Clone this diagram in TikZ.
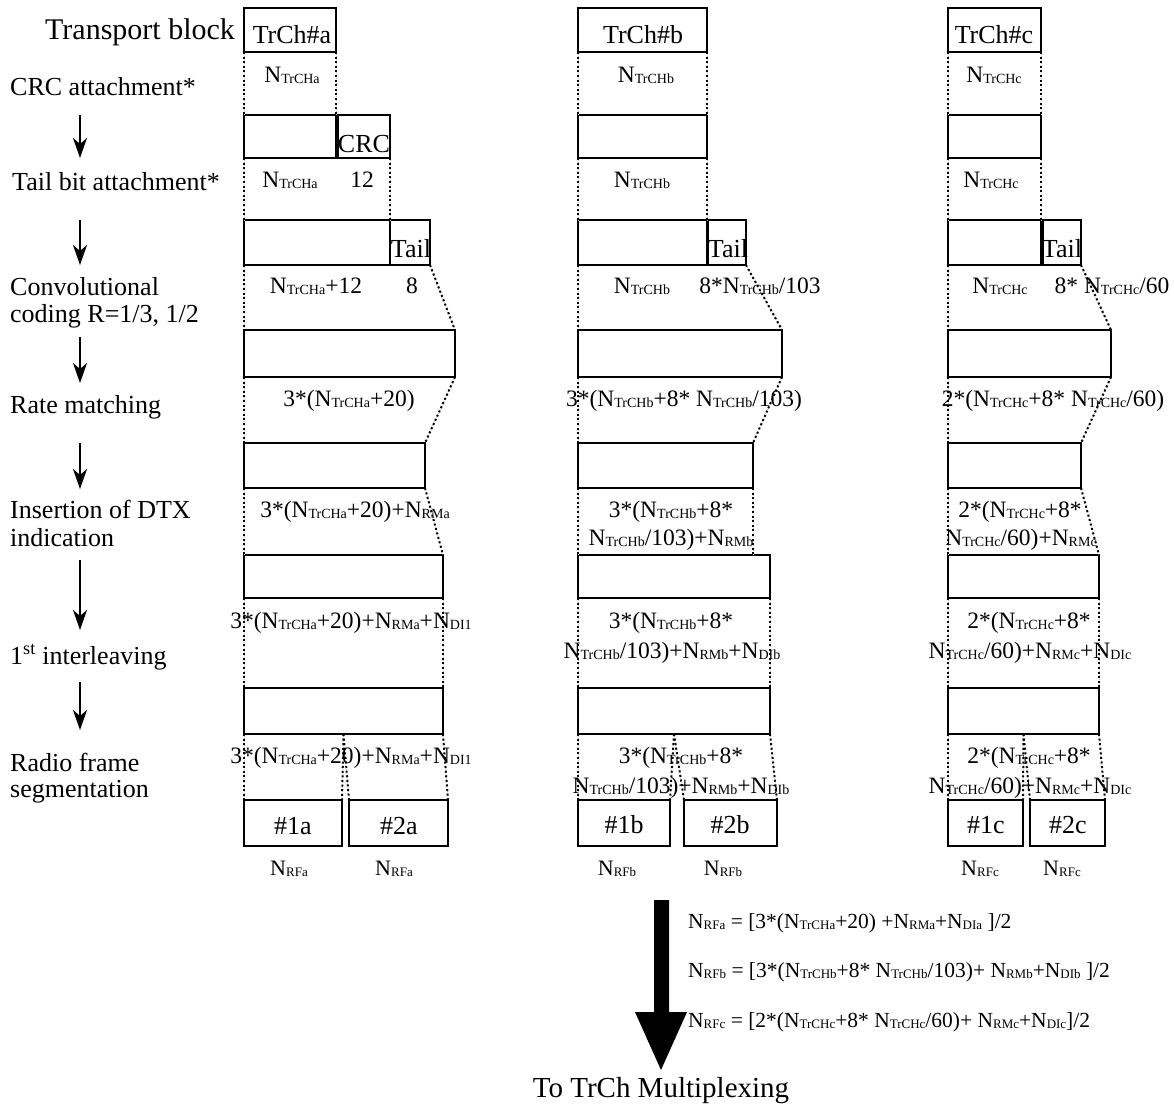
\documentclass[tikz,border=0pt]{standalone}
\usepackage{fontspec}
\setmainfont{Liberation Serif}
\usetikzlibrary{arrows.meta}
\newcommand\subfont{\fontsize{14}{14}\selectfont}
\newcommand\Sub[1]{\raisebox{-1pt}{\subfont #1}}
\newcommand\Nt[1]{N\Sub{TrCH#1}}
\newcommand\Nx[1]{N\Sub{#1}}
\tikzset{
  box/.style={draw, line width=1.6pt, inner sep=0pt, outer sep=0pt, anchor=north west},
  dlink/.style={preaction={draw, gray!50, line width=0.7pt, dash pattern=on 1pt off 1.2pt},
                draw, black, line width=2pt, dash pattern=on 2pt off 2.6pt},
  lab/.style={anchor=base, inner sep=0pt, font=\fontsize{23.5}{28}\selectfont},
  boxtxt/.style={anchor=base, inner sep=0pt, font=\fontsize{26}{30}\selectfont},
  stagetxt/.style={anchor=base west, inner sep=0pt, font=\fontsize{26}{30}\selectfont},
  flow/.style={line width=1.6pt, -{Stealth[length=20pt,width=14pt,inset=6pt]}},
  rflab/.style={anchor=base, inner sep=0pt, font=\fontsize{22}{26}\selectfont\def\subfont{\fontsize{13}{13}\selectfont}},
  formula/.style={anchor=base west, inner sep=0pt, font=\fontsize{21.5}{26}\selectfont\def\subfont{\fontsize{13}{13}\selectfont}}
}
\newcommand\bx[5]{\node[box, minimum width={(#4-#2)*1pt}, minimum height={(#5-#3)*1pt}] (#1) at (#2,#3) {};}
\begin{document}
\begin{tikzpicture}[x=1pt,y=-1pt]
\useasboundingbox (0,0) rectangle (1174,1106);

% ---------- left stage labels ----------
\node[stagetxt, font=\fontsize{30}{34}\selectfont] (s0) at (45,39) {Transport block};
\node[stagetxt] (s1) at (10,95) {CRC attachment*};
\node[stagetxt] (s2) at (12,190) {Tail bit attachment*};
\node[stagetxt] (s3a) at (10,295) {Convolutional};
\node[stagetxt] (s3b) at (10,322) {coding R=1/3, 1/2};
\node[stagetxt] (s4) at (10,413) {Rate matching};
\node[stagetxt] (s5a) at (10,518) {Insertion of DTX};
\node[stagetxt] (s5b) at (10,546) {indication};
\node[stagetxt] (s6) at (10,664) {1\textsuperscript{st} interleaving};
\node[stagetxt] (s7a) at (10,771) {Radio frame};
\node[stagetxt] (s7b) at (10,797) {segmentation};

\foreach \i/\ya/\yb in {1/115/158, 2/220/265, 3/337/383, 4/443/489, 5/560/630, 6/682/730}{
  \coordinate (fa\i) at (80,\ya);
  \coordinate (fb\i) at (80,\yb);
  \draw[flow] (fa\i) -- (fb\i);
}

% ---------- column a ----------
\bx{a0}{244}{8}{336}{52}
\bx{a1}{244}{115}{336}{158}
\bx{a1c}{338}{115}{390}{158}
\bx{a2}{244}{220}{390}{265}
\bx{a2t}{390}{220}{430}{265}
\bx{a3}{244}{330}{455}{377}
\bx{a4}{244}{443}{425}{488}
\bx{a5}{244}{555}{443}{598}
\bx{a6}{244}{688}{443}{734}
\bx{a7}{244}{800}{342}{846}
\bx{a8}{349}{800}{448}{846}

% ---------- column b ----------
\bx{b0}{578}{8}{707}{52}
\bx{b1}{578}{115}{707}{158}
\bx{b2}{578}{220}{707}{265}
\bx{b2t}{708}{220}{746}{265}
\bx{b3}{578}{330}{782}{377}
\bx{b4}{578}{443}{753}{488}
\bx{b5}{578}{555}{770}{598}
\bx{b6}{578}{688}{770}{734}
\bx{b7}{578}{800}{670}{846}
\bx{b8}{684}{800}{777}{846}

% ---------- column c ----------
\bx{c0}{948}{8}{1041}{52}
\bx{c1}{948}{115}{1041}{158}
\bx{c2}{948}{220}{1041}{265}
\bx{c2t}{1043}{220}{1081}{265}
\bx{c3}{948}{330}{1111}{377}
\bx{c4}{948}{443}{1081}{488}
\bx{c5}{948}{555}{1099}{598}
\bx{c6}{948}{688}{1099}{734}
\bx{c7}{948}{800}{1023}{846}
\bx{c8}{1030}{800}{1105}{846}

% ---------- dotted links ----------
\draw[dlink] (a0.south west) -- (a1.north west);
\draw[dlink] (a0.south east) -- (a1.north east);
\draw[dlink] (a1.south west) -- (a2.north west);
\draw[dlink] (a1c.south east) -- (a2.north east);
\draw[dlink] (a2.south west) -- (a3.north west);
\draw[dlink] (a2t.south east) -- (a3.north east);
\draw[dlink] (a3.south west) -- (a4.north west);
\draw[dlink] (a3.south east) -- (a4.north east);
\draw[dlink] (a4.south west) -- (a5.north west);
\draw[dlink] (a4.south east) -- (a5.north east);
\draw[dlink] (a5.south west) -- (a6.north west);
\draw[dlink] (a5.south east) -- (a6.north east);
\draw[dlink] (a6.south west) -- (a7.north west);
\draw[dlink] (a6.south) -- (a7.north east);
\draw[dlink] (a6.south) -- (a8.north west);
\draw[dlink] (a6.south east) -- (a8.north east);

\draw[dlink] (b0.south west) -- (b1.north west);
\draw[dlink] (b0.south east) -- (b1.north east);
\draw[dlink] (b1.south west) -- (b2.north west);
\draw[dlink] (b1.south east) -- (b2.north east);
\draw[dlink] (b2.south west) -- (b3.north west);
\draw[dlink] (b2t.south east) -- (b3.north east);
\draw[dlink] (b3.south west) -- (b4.north west);
\draw[dlink] (b3.south east) -- (b4.north east);
\draw[dlink] (b4.south west) -- (b5.north west);
\draw[dlink] (b4.south east) -- (b4.south east |- b5.north);
\draw[dlink] (b5.south west) -- (b6.north west);
\draw[dlink] (b5.south east) -- (b6.north east);
\draw[dlink] (b6.south west) -- (b7.north west);
\draw[dlink] (b6.south) -- (b7.north east);
\draw[dlink] (b6.south) -- (b8.north west);
\draw[dlink] (b6.south east) -- (b8.north east);

\draw[dlink] (c0.south west) -- (c1.north west);
\draw[dlink] (c0.south east) -- (c1.north east);
\draw[dlink] (c1.south west) -- (c2.north west);
\draw[dlink] (c1.south east) -- (c2.north east);
\draw[dlink] (c2.south west) -- (c3.north west);
\draw[dlink] (c2t.south east) -- (c3.north east);
\draw[dlink] (c3.south west) -- (c4.north west);
\draw[dlink] (c3.south east) -- (c4.north east);
\draw[dlink] (c4.south west) -- (c5.north west);
\draw[dlink] (c4.south east) -- (c5.north east);
\draw[dlink] (c5.south west) -- (c6.north west);
\draw[dlink] (c5.south east) -- (c6.north east);
\draw[dlink] (c6.south west) -- (c7.north west);
\draw[dlink] (c6.south) -- (c7.north east);
\draw[dlink] (c6.south) -- (c8.north west);
\draw[dlink] (c6.south east) -- (c8.north east);

% ---------- texts in boxes ----------
\node[boxtxt] (ta0) at (292,43) {TrCh\#a};
\node[boxtxt] (tcrc) at (364,152) {CRC};
\node[boxtxt] (tta) at (411,257) {Tail};
\node[boxtxt] (tb0) at (643,43) {TrCh\#b};
\node[boxtxt] (ttb) at (728,257) {Tail};
\node[boxtxt] (tc0) at (994,43) {TrCh\#c};
\node[boxtxt] (ttc) at (1062,257) {Tail};
\node[boxtxt] (t1a) at (293,834) {\#1a};
\node[boxtxt] (t2a) at (399,834) {\#2a};
\node[boxtxt] (t1b) at (624,833) {\#1b};
\node[boxtxt] (t2b) at (730,833) {\#2b};
\node[boxtxt] (t1c) at (986,833) {\#1c};
\node[boxtxt] (t2c) at (1068,833) {\#2c};

% ---------- labels column a ----------
\node[lab] (la1) at (292,82) {\Nt{a}};
\node[lab] (la2) at (290,187) {\Nt{a}};
\node[lab] (la2b) at (362,187) {12};
\node[lab] (la3) at (316,293) {\Nt{a}+12};
\node[lab] (la3b) at (412,293) {8};
\node[lab] (la4) at (349,406) {3*(\Nt{a}+20)};
\node[lab] (la5) at (355,517) {3*(\Nt{a}+20)+\Nx{RMa}};
\node[lab] (la6) at (351,628) {3*(\Nt{a}+20)+\Nx{RMa}+\Nx{DI1}};
\node[lab] (la7) at (351,763) {3*(\Nt{a}+20)+\Nx{RMa}+\Nx{DI1}};
\node[rflab] (la8) at (289,875) {\Nx{RFa}};
\node[rflab] (la9) at (394,875) {\Nx{RFa}};

% ---------- labels column b ----------
\node[lab] (lb1) at (646,82) {\Nt{b}};
\node[lab] (lb2) at (642,187) {\Nt{b}};
\node[lab] (lb3) at (642,293) {\Nt{b}};
\node[lab] (lb3b) at (760,293) {8*\Nt{b}/103};
\node[lab] (lb4) at (684,406) {3*(\Nt{b}+8* \Nt{b}/103)};
\node[lab] (lb5a) at (671,517) {3*(\Nt{b}+8*};
\node[lab] (lb5b) at (671,545) {\Nt{b}/103)+\Nx{RMb}};
\node[lab] (lb6a) at (671,628) {3*(\Nt{b}+8*};
\node[lab] (lb6b) at (672,658) {\Nt{b}/103)+\Nx{RMb}+\Nx{DIb}};
\node[lab] (lb7a) at (681,763) {3*(\Nt{b}+8*};
\node[lab] (lb7b) at (681,793) {\Nt{b}/103)+\Nx{RMb}+\Nx{DIb}};
\node[rflab] (lb8) at (617,875) {\Nx{RFb}};
\node[rflab] (lb9) at (723,875) {\Nx{RFb}};

% ---------- labels column c ----------
\node[lab] (lc1) at (994,82) {\Nt{c}};
\node[lab] (lc2) at (991,187) {\Nt{c}};
\node[lab] (lc3) at (1000,293) {\Nt{c}};
\node[lab] (lc3b) at (1112,293) {8* \Nt{c}/60};
\node[lab] (lc4) at (1053,406) {2*(\Nt{c}+8* \Nt{c}/60)};
\node[lab] (lc5a) at (1020,517) {2*(\Nt{c}+8*};
\node[lab] (lc5b) at (1021,545) {\Nt{c}/60)+\Nx{RMc}};
\node[lab] (lc6a) at (1029,628) {2*(\Nt{c}+8*};
\node[lab] (lc6b) at (1030,658) {\Nt{c}/60)+\Nx{RMc}+\Nx{DIc}};
\node[lab] (lc7a) at (1029,763) {2*(\Nt{c}+8*};
\node[lab] (lc7b) at (1030,793) {\Nt{c}/60)+\Nx{RMc}+\Nx{DIc}};
\node[rflab] (lc8) at (980,875) {\Nx{RFc}};
\node[rflab] (lc9) at (1062,875) {\Nx{RFc}};

% ---------- bottom ----------
\fill (654,900) -- (669,900) -- (669,1012) -- (687,1012) -- (661,1070) -- (635,1012) -- (654,1012) -- cycle;
\node[anchor=base, inner sep=0pt, font=\fontsize{29}{33}\selectfont] (mux) at (661,1097) {To TrCh Multiplexing};
\node[formula] (fa) at (688,928) {\Nx{RFa} = [3*(\Nt{a}+20) +\Nx{RMa}+\Nx{DIa} ]/2};
\node[formula] (fb) at (688,977) {\Nx{RFb} = [3*(\Nt{b}+8* \Nt{b}/103)+ \Nx{RMb}+\Nx{DIb} ]/2};
\node[formula] (fc) at (688,1027) {\Nx{RFc} = [2*(\Nt{c}+8* \Nt{c}/60)+ \Nx{RMc}+\Nx{DIc}]/2};
\end{tikzpicture}
\end{document}
